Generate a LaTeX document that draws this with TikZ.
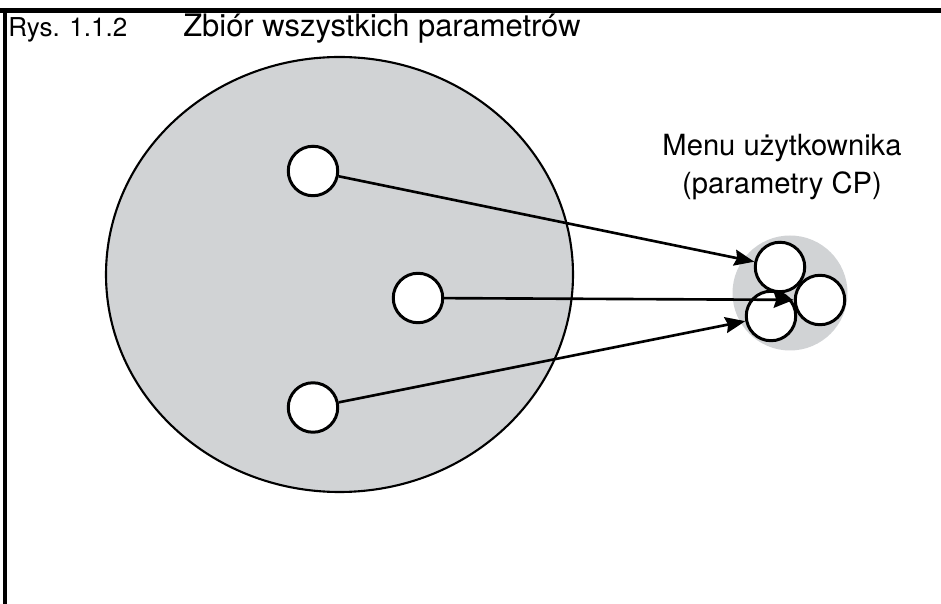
\documentclass[tikz,border=0pt]{standalone}
\usepackage{fontspec}
\setmainfont{TeX Gyre Heros}
\usetikzlibrary{arrows.meta}
\definecolor{setgray}{RGB}{209,211,213}
\begin{document}
\begin{tikzpicture}[x=0.02cm,y=-0.02cm,>={Stealth[length=0.4cm,width=0.32cm,inset=0.05cm]},
    ring/.style={circle,draw,fill=white,line width=1.7pt,minimum size=0.99cm,inner sep=0pt},
    arrow/.style={->,line width=1.5pt}]
    \useasboundingbox (0,0) rectangle (941,604);
    % frame
    \draw[line width=2.3pt] (0,10.5) -- (5,10.5) -- (941,10.5);
    \draw[line width=2.3pt] (5,10.5) -- (5,604);
    \node[anchor=base west,inner sep=0pt,font=\fontsize{14.8}{17}\selectfont] (fig) at (8,37) {Rys. 1.1.2};
    \node[anchor=base west,inner sep=0pt,font=\fontsize{17.6}{20}\selectfont] (title) at (183,37) {Zbiór wszystkich parametrów};
    % all parameters
    \draw[fill=setgray,line width=1.2pt] (339.5,274.5) ellipse (233.5 and 217.5);
    \node[ring] (p1) at (313,171) {};
    \node[ring] (p2) at (418,298) {};
    \node[ring] (p3) at (313,407.5) {};
    % user menu
    \fill[setgray] (790,293) circle (57.5);
    \node[ring] (m1) at (780,267) {};
    \node[ring] (m3) at (820,300) {};
    \node[ring] (m2) at (771,316) {};
    \node[align=center,inner sep=0pt,font=\fontsize{16.6}{21.6}\selectfont] (menu) at (782,167) {Menu użytkownika\\(parametry CP)};
    \draw[arrow] (p1) -- (m1);
    \draw[arrow] (p2) -- (m3);
    \draw[arrow] (p3) -- (m2);
\end{tikzpicture}
\end{document}
